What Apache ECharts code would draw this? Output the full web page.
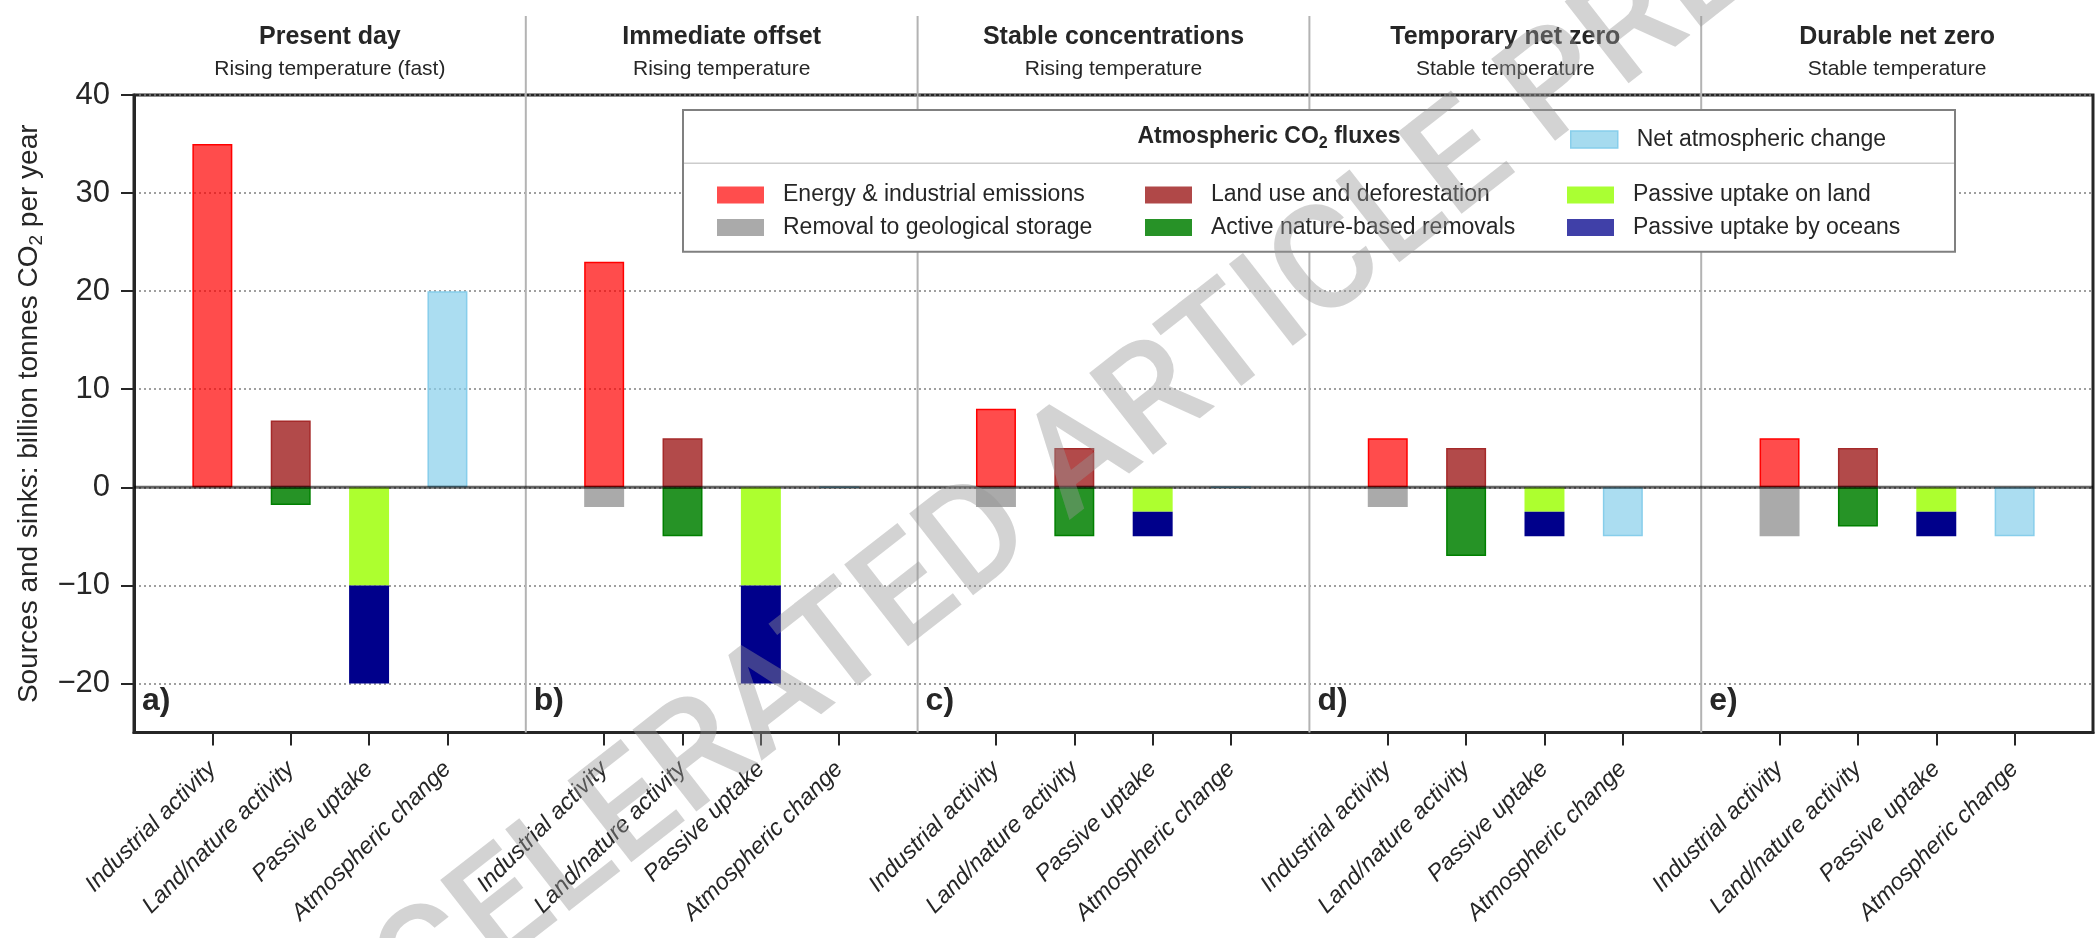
<!DOCTYPE html>
<html>
<head>
<meta charset="utf-8">
<script src="https://cdn.jsdelivr.net/npm/echarts@6/dist/echarts.min.js"></script>
<style>
  html, body { margin: 0; padding: 0; background: #ffffff; }
  #chart { width: 2097px; height: 938px; }
</style>
</head>
<body>
<div id="chart"></div>
<script>
// ---- data -----------------------------------------------------------------
const PANEL_TITLES = ['Present day', 'Immediate offset', 'Stable concentrations', 'Temporary net zero', 'Durable net zero'];
const PANEL_SUBTITLES = ['Rising temperature (fast)', 'Rising temperature', 'Rising temperature', 'Stable temperature', 'Stable temperature'];
const PANEL_TAGS = ['a)', 'b)', 'c)', 'd)', 'e)'];
const ACTIVITY_LABELS = ['Industrial activity', 'Land/nature activity', 'Passive uptake', 'Atmospheric change'];
const Y_TICKS = [-20, -10, 0, 10, 20, 30, 40];

// billion tonnes CO2 per year, one value per panel (a..e)
const energyIndustrial  = [35, 23, 8, 5, 5];
const geologicalRemoval = [null, -2, -2, -2, -5];
const landUse           = [6.8, 5, 4, 4, 4];
const natureRemovals    = [-1.8, -5, -5, -7, -4];
const passiveLand       = [-10, -10, -2.5, -2.5, -2.5];
const passiveOcean      = [-10, -10, -2.5, -2.5, -2.5];
const netChange         = [20, 0, 0, -5, -5];

// ---- styling --------------------------------------------------------------
const FONT = '"Liberation Sans", Arial, Helvetica, sans-serif';
const INK = '#262626';
const SLOTS = 5;              // 4 activity columns + 1 spacer per panel

const FLUXES = [
  { name: 'Energy & industrial emissions', values: energyIndustrial, slot: 1 },
  { name: 'Removal to geological storage', values: geologicalRemoval, slot: 1 },
  { name: 'Land use and deforestation',    values: landUse,           slot: 2 },
  { name: 'Active nature-based removals',  values: natureRemovals,    slot: 2 },
  { name: 'Passive uptake on land',        values: passiveLand,       slot: 3 },
  { name: 'Passive uptake by oceans',      values: passiveOcean,      slot: 3 },
  { name: 'Net atmospheric change',        values: netChange,         slot: 4 }
];

const STYLE = {
  'Energy & industrial emissions': { fill: 'rgba(255,0,0,0.7)',    edge: '#ff0000', bw: 1.5, key: '#ff4d4d' },
  'Removal to geological storage': { fill: '#aaaaaa',              edge: '#aaaaaa', bw: 0,   key: '#aaaaaa' },
  'Land use and deforestation':    { fill: 'rgba(165,42,42,0.85)', edge: '#a52a2a', bw: 1.5, key: '#b04848' },
  'Active nature-based removals':  { fill: 'rgba(0,128,0,0.85)',   edge: '#008000', bw: 1.5, key: '#279227' },
  'Passive uptake on land':        { fill: '#adff2f',              edge: '#adff2f', bw: 0,   key: '#aaff33' },
  'Passive uptake by oceans':      { fill: '#00008b',              edge: '#00008b', bw: 0,   key: '#4040a8' },
  'Net atmospheric change':        { fill: 'rgba(135,206,235,0.7)', edge: '#87ceeb', bw: 1.5, key: '#a6dbef' }
};

// ---- category axis: spacer, 4 activities, spacer, ... ----------------------
const categories = [];
for (let p = 0; p < PANEL_TITLES.length; p++) {
  categories.push('sep' + p);
  ACTIVITY_LABELS.forEach(l => categories.push(p + '|' + l));
}
categories.push('sep' + PANEL_TITLES.length);

function place(values, slot) {
  const arr = categories.map(() => '-');
  values.forEach((v, p) => { if (v !== null) arr[p * SLOTS + slot] = v; });
  return arr;
}

const series = FLUXES.map(f => ({
  name: f.name,
  type: 'bar',
  stack: 'flux',
  barWidth: '51%',
  data: place(f.values, f.slot),
  itemStyle: { color: STYLE[f.name].fill, borderColor: STYLE[f.name].edge, borderWidth: STYLE[f.name].bw },
  emphasis: { disabled: true },
  silent: true,
  animation: false
}));

function legendItem(name) {
  const s = STYLE[name];
  const st = { color: s.key, borderWidth: 0 };
  if (name === 'Net atmospheric change') { st.borderColor = '#87ceeb'; st.borderWidth = 1.5; }
  return { name, itemStyle: st };
}

const legendBase = {
  orient: 'vertical',
  icon: 'rect',
  itemWidth: 47,
  itemHeight: 17,
  itemGap: 9.4,
  selectedMode: false,
  z: 10,
  textStyle: { fontFamily: FONT, fontSize: 23, color: INK, padding: [0, 0, 0, 14] }
};

const isBarSlot = i => i % SLOTS !== 0;

const chart = echarts.init(document.getElementById('chart'), null, { renderer: 'canvas' });

chart.setOption({
  animation: false,
  backgroundColor: '#ffffff',
  textStyle: { fontFamily: FONT },
  grid: { left: 134, right: 4, top: 95, bottom: 205.5, show: true, borderColor: INK, borderWidth: 3, backgroundColor: 'transparent' },
  legend: [
    Object.assign({}, legendBase, { left: 712,  top: 178.6, data: [legendItem(FLUXES[0].name), legendItem(FLUXES[1].name)] }),
    Object.assign({}, legendBase, { left: 1140, top: 178.6, data: [legendItem(FLUXES[2].name), legendItem(FLUXES[3].name)] }),
    Object.assign({}, legendBase, { left: 1562, top: 178.6, data: [legendItem(FLUXES[4].name), legendItem(FLUXES[5].name)] }),
    Object.assign({}, legendBase, { left: 1565, top: 123,   data: [legendItem(FLUXES[6].name)] })
  ],
  xAxis: {
    type: 'category',
    data: categories,
    boundaryGap: false,
    axisLine: { show: true, onZero: false, lineStyle: { color: INK, width: 3 } },
    axisTick: { show: true, interval: isBarSlot, length: 13, lineStyle: { color: INK, width: 2 } },
    axisLabel: {
      interval: isBarSlot,
      rotate: 45,
      margin: 33,
      fontSize: 23.5,
      fontStyle: 'italic',
      fontFamily: FONT,
      color: INK,
      formatter: v => (v.split('|')[1] || '')
    },
    splitLine: { show: false }
  },
  yAxis: {
    type: 'value',
    min: -25,
    max: 40,
    name: 'Sources and sinks: billion tonnes CO{sub|2} per year',
    nameLocation: 'middle',
    nameGap: 88,
    nameTextStyle: {
      fontFamily: FONT, fontSize: 28, color: INK, lineHeight: 34,
      rich: { sub: { fontFamily: FONT, fontSize: 19, color: INK, verticalAlign: 'bottom', lineHeight: 18 } }
    },
    axisLine: { show: true, onZero: false, lineStyle: { color: INK, width: 3 } },
    axisTick: { show: true, customValues: Y_TICKS, length: 13, lineStyle: { color: INK, width: 2 } },
    axisLabel: {
      customValues: Y_TICKS,
      margin: 24,
      fontSize: 31,
      fontFamily: FONT,
      color: INK,
      formatter: v => String(v).replace('-', '\u2212')
    },
    splitLine: { show: true, lineStyle: { color: '#808080', width: 1.6, type: [2, 3] } }
  },
  series
});

// ---- panel furniture positioned through the axes ---------------------------
const px = i => chart.convertToPixel({ xAxisIndex: 0 }, i);
const py = v => chart.convertToPixel({ yAxisIndex: 0 }, v);

const yBottom = py(-25), yZero = py(0);
const xLeft = px(0), xRight = px(categories.length - 1);
const graphic = [];

for (let p = 0; p < PANEL_TITLES.length; p++) {
  const x0 = px(p * SLOTS), x1 = px((p + 1) * SLOTS);
  const cx = (x0 + x1) / 2;
  graphic.push({
    type: 'text', z: 10, silent: true,
    style: { text: PANEL_TITLES[p], x: cx, y: 37.3, align: 'center', verticalAlign: 'middle',
             fontFamily: FONT, fontSize: 25, fontWeight: 'bold', fill: INK }
  });
  graphic.push({
    type: 'text', z: 10, silent: true,
    style: { text: PANEL_SUBTITLES[p], x: cx, y: 69.3, align: 'center', verticalAlign: 'middle',
             fontFamily: FONT, fontSize: 21, fill: INK }
  });
  graphic.push({
    type: 'text', z: 10, silent: true,
    style: { text: PANEL_TAGS[p], x: x0 + 8, y: 701.5, align: 'left', verticalAlign: 'middle',
             fontFamily: FONT, fontSize: 32, fontWeight: 'bold', fill: INK }
  });
  if (p > 0) {
    graphic.push({
      type: 'line', z: 3, silent: true,
      shape: { x1: x0, y1: 16, x2: x0, y2: yBottom },
      style: { stroke: '#b3b3b3', lineWidth: 2 }
    });
  }
}

// zero line drawn over the bars
graphic.push({
  type: 'line', z: 4, silent: true,
  shape: { x1: xLeft, y1: yZero, x2: xRight, y2: yZero },
  style: { stroke: 'rgba(0,0,0,0.6)', lineWidth: 3 }
});

// legend frame, header and separator
graphic.push({
  type: 'rect', z: 5, silent: true,
  shape: { x: 683, y: 110, width: 1272, height: 141.7 },
  style: { fill: '#ffffff', stroke: '#808080', lineWidth: 2 }
});
graphic.push({
  type: 'line', z: 6, silent: true,
  shape: { x1: 684, y1: 163.3, x2: 1954, y2: 163.3 },
  style: { stroke: '#cccccc', lineWidth: 1.5 }
});
graphic.push({
  type: 'text', z: 10, silent: true,
  style: {
    text: 'Atmospheric CO{sub|2} fluxes', x: 1269, y: 137, align: 'center', verticalAlign: 'middle',
    fontFamily: FONT, fontSize: 23, fontWeight: 'bold', fill: INK, lineHeight: 30,
    rich: { sub: { fontFamily: FONT, fontSize: 16, fontWeight: 'bold', fill: INK, verticalAlign: 'bottom', lineHeight: 16 } }
  }
});

// preview watermark
graphic.push({
  type: 'text', z: 100, silent: true,
  x: 1128, y: 428, rotation: 38 * Math.PI / 180,
  style: {
    text: 'ACCELERATED ARTICLE PREVIEW', x: 0, y: 0, align: 'center', verticalAlign: 'middle',
    fontFamily: 'Roboto, "Liberation Sans", sans-serif', fontSize: 146, fontWeight: 500,
    fill: 'rgba(150,150,150,0.42)'
  }
});

chart.setOption({ graphic });
</script>
</body>
</html>
